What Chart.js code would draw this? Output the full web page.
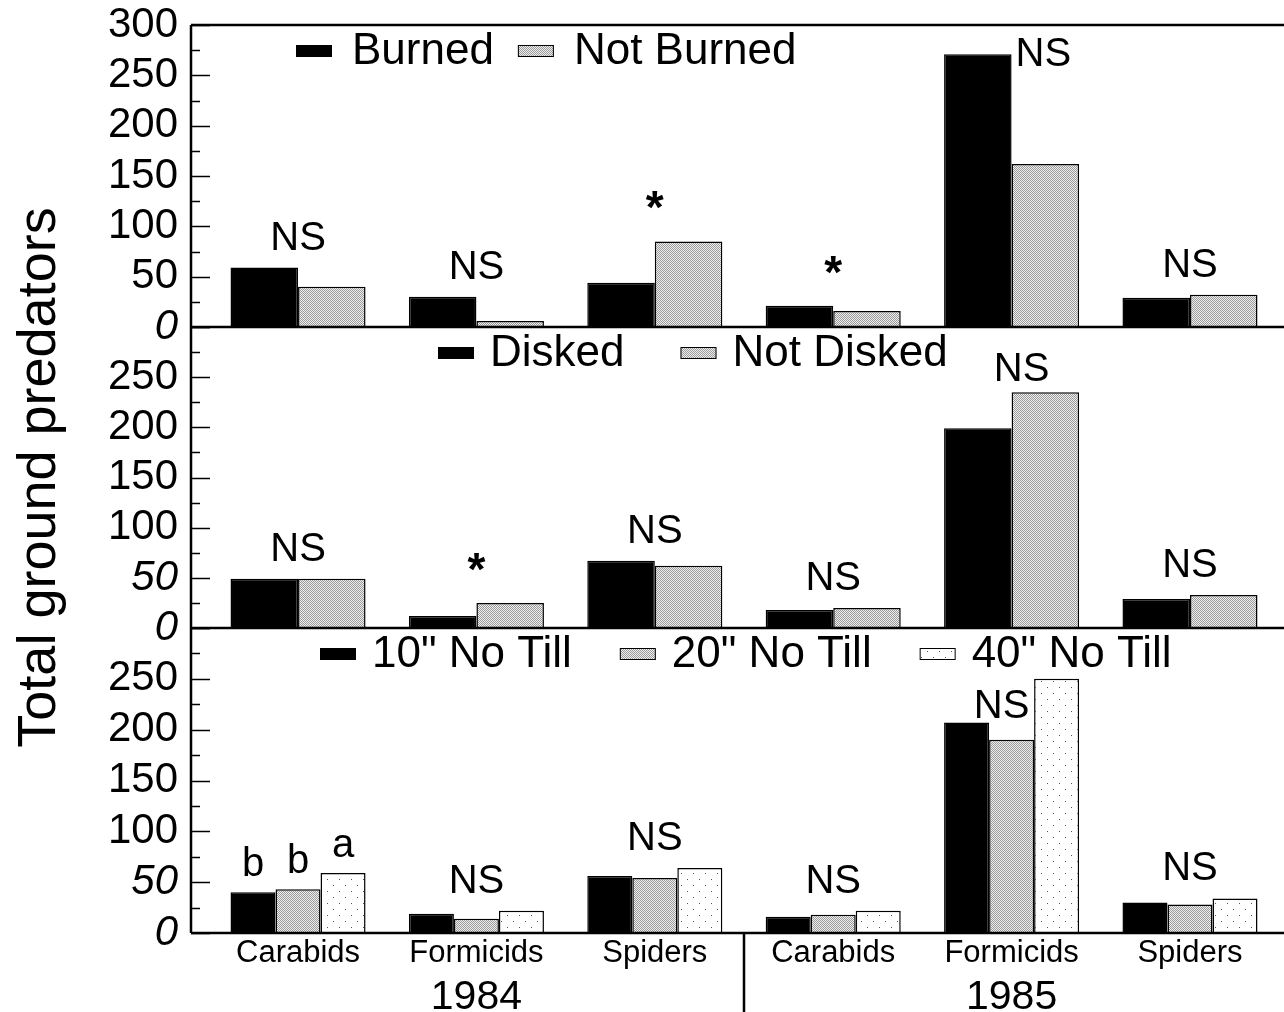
<!DOCTYPE html>
<html>
<head>
<meta charset="utf-8">
<script src="https://cdn.jsdelivr.net/npm/chart.js@4.4.1/dist/chart.umd.min.js"></script>
<style>
  html, body { margin: 0; padding: 0; background: #fff; overflow: hidden; }
  #wrap { position: relative; width: 1284px; height: 1012px; }
  #wrap canvas { position: absolute; left: 0; top: 0; }
</style>
</head>
<body>
<div id="wrap">
  <canvas id="burnChart" width="1284" height="1012"></canvas>
  <canvas id="diskChart" width="1284" height="1012"></canvas>
  <canvas id="tillChart" width="1284" height="1012"></canvas>
</div>
<script>
// values
const categories = ['Carabids', 'Formicids', 'Spiders', 'Carabids', 'Formicids', 'Spiders'];
const years = ['1984', '1985'];
const burned    = [59, 30, 44, 21, 271, 29];
const notBurned = [40,  6, 85, 16, 162, 32];
const disked    = [49, 12, 67, 18, 199, 29];
const notDisked = [49, 25, 62, 20, 235, 33];
const till10 = [40, 19, 56, 16, 207, 30];
const till20 = [43, 14, 54, 18, 190, 28];
const till40 = [59, 22, 64, 22, 250, 34];
const burnNotes = ['NS', 'NS', '*', '*', 'NS', 'NS'];
const diskNotes = ['NS', '*', 'NS', 'NS', 'NS', 'NS'];
const tillNotes = [['b', 'b', 'a'], 'NS', 'NS', 'NS', 'NS', 'NS'];

const FONT = '"Liberation Sans", Arial, Helvetica, sans-serif';
const X_MIN = -0.6, X_MAX = 5.527;
Chart.defaults.font.family = FONT;
Chart.defaults.color = '#000';
Chart.defaults.animation = false;

function makePattern(kind) {
    const c = document.createElement('canvas');
    const g = c.getContext('2d');
    if (kind === 'stipple') {
        c.width = 2; c.height = 2;
        g.fillStyle = '#efefef'; g.fillRect(0, 0, 2, 2);
        g.fillStyle = '#9a9a9a'; g.fillRect(0, 0, 1, 1); g.fillRect(1, 1, 1, 1);
    } else {
        c.width = 12; c.height = 12;
        g.fillStyle = '#fff'; g.fillRect(0, 0, 12, 12);
        g.fillStyle = '#555'; g.fillRect(3, 3, 1, 1); g.fillRect(9, 9, 1, 1);
    }
    return g.createPattern(c, 'repeat');
}
const stipple = makePattern('stipple');
const sparse = makePattern('sparse');

// inward y ticks, frame lines, year divider
const frame = {
    id: 'frame',
    afterDraw(chart, args, opts) {
        const { ctx, chartArea: a, scales: { x, y } } = chart;
        ctx.save();
        ctx.strokeStyle = '#000';
        ctx.lineWidth = 1.5;
        for (let v = 0; v <= 300; v += 25) {
            const py = Math.round(y.getPixelForValue(v)) + 0.5;
            ctx.beginPath();
            ctx.moveTo(a.left, py);
            ctx.lineTo(a.left + (v % 50 === 0 ? 19 : 9), py);
            ctx.stroke();
        }
        ctx.lineWidth = 2.5;
        ctx.beginPath();
        ctx.moveTo(a.left, a.top); ctx.lineTo(a.left, a.bottom);
        ctx.moveTo(a.left, a.bottom); ctx.lineTo(a.right, a.bottom);
        if (opts.top) { ctx.moveTo(a.left, a.top); ctx.lineTo(a.right, a.top); }
        if (opts.divider) {
            const dx = Math.round(x.getPixelForValue(2.5));
            ctx.moveTo(dx, a.bottom); ctx.lineTo(dx, chart.height);
        }
        ctx.stroke();
        ctx.restore();
    }
};

// legend drawn inside the plot
const insideLegend = {
    id: 'insideLegend',
    afterDraw(chart, args, opts) {
        const { ctx, chartArea: a } = chart;
        ctx.save();
        ctx.font = '44px ' + FONT;
        ctx.textBaseline = 'middle';
        ctx.textAlign = 'left';
        let cx = opts.x;
        const cy = a.top + opts.dy;
        chart.data.datasets.forEach(ds => {
            ctx.fillStyle = ds.backgroundColor;
            ctx.fillRect(cx, cy - 7, 36, 12);
            ctx.strokeStyle = '#000';
            ctx.lineWidth = 1;
            ctx.strokeRect(cx + 0.5, cy - 6.5, 35, 11);
            cx += 36 + opts.textGap;
            ctx.fillStyle = '#000';
            ctx.fillText(ds.label, cx, cy);
            cx += ctx.measureText(ds.label).width + opts.gap;
        });
        ctx.restore();
    }
};

// significance marks above each group
const notes = {
    id: 'notes',
    afterDatasetsDraw(chart, args, opts) {
        const ctx = chart.ctx;
        const n = chart.data.datasets.length;
        ctx.save();
        ctx.fillStyle = '#000';
        opts.items.forEach((note, j) => {
            const bars = [];
            for (let i = 0; i < n; i++) bars.push(chart.getDatasetMeta(i).data[j]);
            ctx.font = '40px ' + FONT;
            ctx.textAlign = 'center';
            ctx.textBaseline = 'alphabetic';
            if (Array.isArray(note)) {
                note.forEach((t, i) => ctx.fillText(t, bars[i].x, bars[i].y - 16));
                return;
            }
            const sp = (opts.special || {})[j] || {};
            const left = bars[0].x - bars[0].width / 2;
            const right = bars[n - 1].x + bars[n - 1].width / 2;
            let anchor = bars.reduce((p, b) => (b.y < p.y ? b : p));
            if (sp.bar !== undefined) anchor = bars[sp.bar];
            if (sp.side === 'right') {
                ctx.textAlign = 'left';
                ctx.fillText(note, anchor.x + anchor.width / 2 + 4, anchor.y + sp.dy);
                return;
            }
            let gap = sp.gap !== undefined ? sp.gap : 18;
            if (note === '*') {
                ctx.font = 'bold 46px ' + FONT;
                gap = 18;
            }
            ctx.fillText(note, (left + right) / 2 + (sp.dx || 0), anchor.y - gap);
        });
        ctx.restore();
    }
};

function indexTicks(scale) {
    scale.ticks = categories.map((c, i) => ({ value: i }));
}

function makePanel(id, cfg) {
    const datasets = cfg.series.map(s => ({
        label: s.label,
        data: s.values.map((v, i) => ({ x: i, y: v })),
        backgroundColor: s.fill,
        borderColor: '#000',
        borderWidth: 1.5,
        categoryPercentage: 0.757,
        barPercentage: 1
    }));
    const scales = {
        x: {
            type: 'linear', min: X_MIN, max: X_MAX, position: 'bottom', offset: false,
            display: cfg.showX,
            afterBuildTicks: indexTicks,
            afterFit: s => { s.height = cfg.showX ? 40 : 0; },
            grid: { display: false, drawTicks: false },
            border: { display: false },
            ticks: {
                autoSkip: false, maxRotation: 0, padding: 2,
                font: { size: 31 },
                callback: v => categories[v]
            }
        },
        y: {
            min: 0, max: 300,
            afterFit: s => { s.width = 191; },
            grid: { display: false, drawTicks: false },
            border: { display: false },
            ticks: {
                stepSize: 50, padding: 13, autoSkip: false,
                font: ctx => {
                    const v = ctx.tick ? ctx.tick.value : -1;
                    return { size: 42, lineHeight: 0.3, style: cfg.italic.includes(v) ? 'italic' : 'normal' };
                },
                callback: v => (cfg.hidden.includes(v) ? '' : v)
            },
            title: {
                display: !!cfg.title,
                text: cfg.title || '',
                font: { size: 54, lineHeight: 1 },
                padding: { top: 13, bottom: 0 }
            }
        }
    };
    if (cfg.showX) {
        scales.years = {
            type: 'linear', min: X_MIN, max: X_MAX, position: 'bottom', weight: 1, offset: false,
            afterBuildTicks: s => { s.ticks = years.map((yr, k) => ({ value: k * 3 + 1 })); },
            afterFit: s => { s.height = 39; },
            grid: { display: false, drawTicks: false },
            border: { display: false },
            ticks: {
                autoSkip: false, maxRotation: 0, padding: 4,
                font: { size: 41, lineHeight: 1 },
                callback: v => years[(v - 1) / 3]
            }
        };
    }
    return new Chart(document.getElementById(id), {
        type: 'bar',
        data: { datasets: datasets },
        options: {
            responsive: false,
            layout: { padding: { top: cfg.top, bottom: cfg.bottom, left: 0, right: 0 } },
            scales: scales,
            plugins: {
                legend: { display: false },
                tooltip: { enabled: false },
                frame: { top: cfg.frameTop, divider: cfg.showX },
                insideLegend: cfg.legend,
                notes: cfg.notes
            }
        },
        plugins: [frame, insideLegend, notes]
    });
}

makePanel('burnChart', {
    series: [
        { label: 'Burned', values: burned, fill: '#000' },
        { label: 'Not Burned', values: notBurned, fill: stipple }
    ],
    top: 25, bottom: 685, showX: false, frameTop: true,
    italic: [0], hidden: [],
    legend: { x: 296, dy: 27, textGap: 20, gap: 24 },
    notes: { items: burnNotes, special: { 4: { bar: 0, side: 'right', dy: 12 } } }
});

makePanel('diskChart', {
    series: [
        { label: 'Disked', values: disked, fill: '#000' },
        { label: 'Not Disked', values: notDisked, fill: stipple }
    ],
    top: 327, bottom: 384, showX: false, frameTop: false,
    italic: [0, 50], hidden: [300],
    title: 'Total ground predators',
    legend: { x: 438, dy: 27, textGap: 16, gap: 56 },
    notes: { items: diskNotes, special: { 4: { gap: 11, dx: 10 } } }
});

makePanel('tillChart', {
    series: [
        { label: '10" No Till', values: till10, fill: '#000' },
        { label: '20" No Till', values: till20, fill: stipple },
        { label: '40" No Till', values: till40, fill: sparse }
    ],
    top: 628, bottom: 0, showX: true, frameTop: false,
    italic: [0, 50], hidden: [300],
    legend: { x: 320, dy: 27, textGap: 16, gap: 48 },
    notes: { items: tillNotes, special: { 4: { bar: 1, gap: 22, dx: -10 } } }
});
</script>
</body>
</html>
